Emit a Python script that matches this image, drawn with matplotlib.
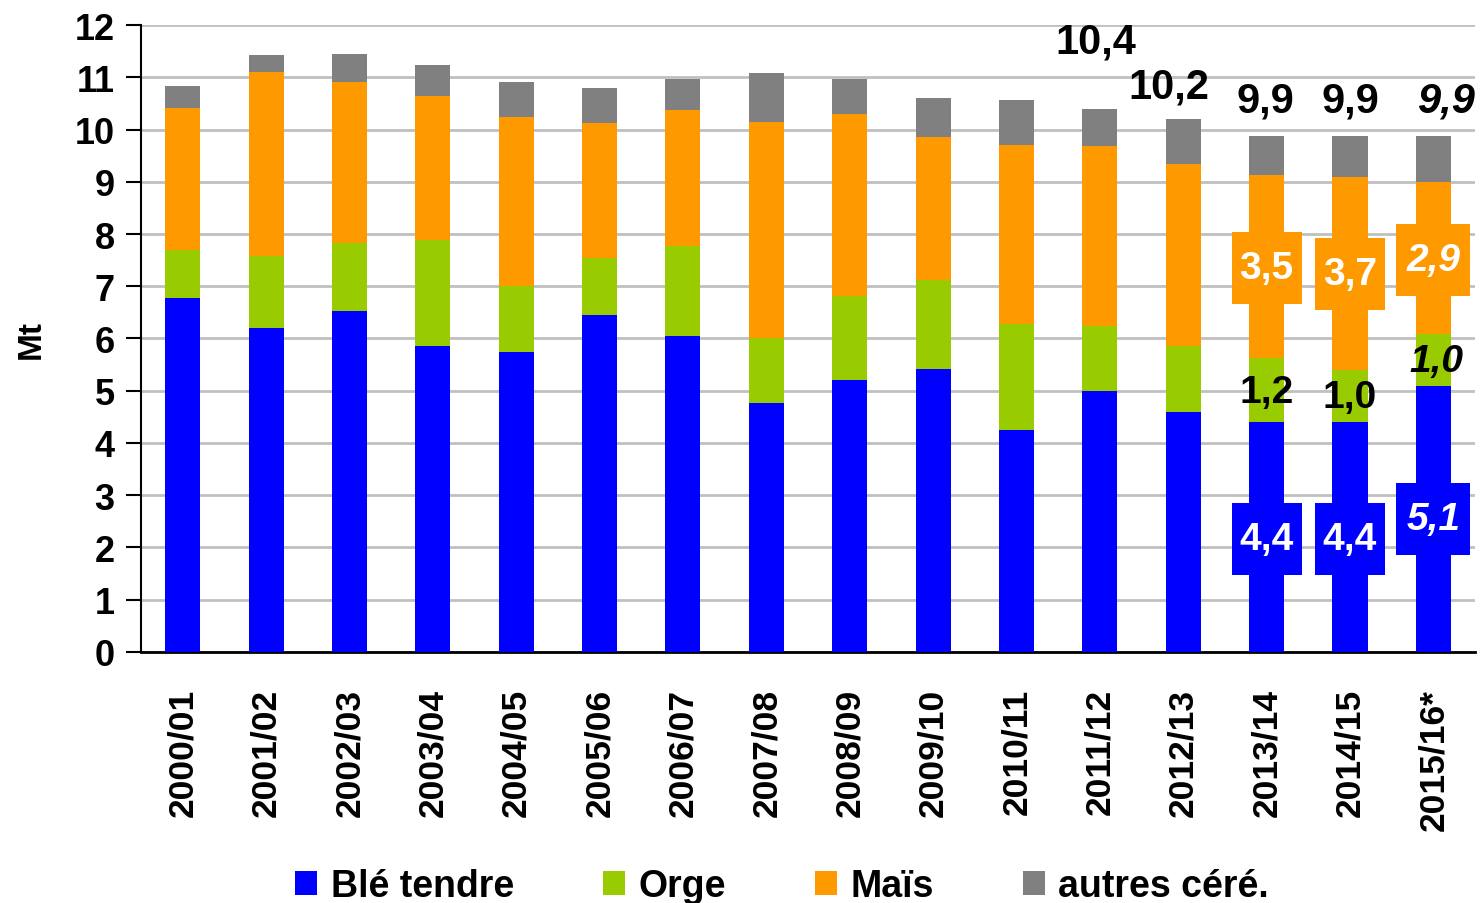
import matplotlib.pyplot as plt
from matplotlib.patches import Rectangle
import numpy as np

plt.rcParams['font.family'] = ['Liberation Sans', 'DejaVu Sans']
plt.rcParams['font.weight'] = 'bold'

campagnes = ["2000/01", "2001/02", "2002/03", "2003/04", "2004/05", "2005/06",
             "2006/07", "2007/08", "2008/09", "2009/10", "2010/11", "2011/12",
             "2012/13", "2013/14", "2014/15", "2015/16*"]
ble = [6.78, 6.20, 6.53, 5.86, 5.74, 6.45, 6.05, 4.77, 5.21, 5.42, 4.25, 5.00,
       4.59, 4.40, 4.40, 5.09]
orge = [0.91, 1.38, 1.30, 2.03, 1.26, 1.09, 1.72, 1.24, 1.60, 1.70, 2.03, 1.24,
        1.27, 1.23, 1.00, 1.00]
mais = [2.72, 3.52, 3.08, 2.75, 3.24, 2.58, 2.60, 4.13, 3.49, 2.74, 3.42, 3.44,
        3.48, 3.50, 3.69, 2.91]
autres = [0.42, 0.33, 0.53, 0.59, 0.67, 0.67, 0.60, 0.94, 0.67, 0.74, 0.86, 0.71,
          0.86, 0.75, 0.79, 0.88]

# totals written above the last bars
totaux = {11: "10,4", 12: "10,2", 13: "9,9", 14: "9,9", 15: "9,9"}
# labels inside the last three bars
lab_ble = ["4,4", "4,4", "5,1"]
lab_orge = ["1,2", "1,0", "1,0"]
lab_mais = ["3,5", "3,7", "2,9"]

c_ble, c_orge, c_mais, c_autres = "#0000FF", "#99CC00", "#FF9900", "#808080"

fig = plt.figure(figsize=(14.81, 9.04), dpi=100)
ax = fig.add_axes([0.0952, 0.2777, 0.9008, 0.6935])

x = np.arange(len(campagnes))
w = 0.42
b1 = np.array(ble)
b2 = b1 + np.array(orge)
b3 = b2 + np.array(mais)
ax.bar(x, ble, w, color=c_ble, label="Blé tendre", zorder=3)
ax.bar(x, orge, w, bottom=b1, color=c_orge, label="Orge", zorder=3)
ax.bar(x, mais, w, bottom=b2, color=c_mais, label="Maïs", zorder=3)
ax.bar(x, autres, w, bottom=b3, color=c_autres, label="autres céré.", zorder=3)

ax.set_xlim(-0.5, 15.5)
ax.set_ylim(0, 12)
ax.set_yticks(range(0, 13))
ax.yaxis.grid(True, color="#c0c0c0", linewidth=2, zorder=0)
ax.set_axisbelow(True)
for s in ["top", "right"]:
    ax.spines[s].set_visible(False)
ax.spines["left"].set_linewidth(1.5)
ax.spines["bottom"].set_linewidth(2)
ax.tick_params(axis="y", labelsize=26, length=11, width=1.5, pad=8)
ax.tick_params(axis="x", labelsize=25.5, length=0, pad=26)
ax.set_xticks(x)
ax.set_xticklabels(campagnes, rotation=90, fontweight="bold")
for t in ax.get_yticklabels():
    t.set_fontweight("bold")
ax.set_ylabel("Mt", fontsize=24, fontweight="bold", labelpad=20)

# totals
pos_tot = {11: 11.69, 12: 10.83, 13: 10.56, 14: 10.56, 15: 10.56}
dx_tot = {11: -0.05, 12: -0.17, 13: -0.02, 14: 0.0, 15: 0.15}
for i, txt in totaux.items():
    ax.text(x[i] + dx_tot[i], pos_tot[i], txt, ha="center", va="center",
            fontsize=30, fontweight="bold", style="italic" if i == 15 else "normal",
            zorder=5)

# inner labels of the last three campaigns, in boxes
y_mais = [7.35, 7.23, 7.51]
y_orge = [4.98, 4.88, 5.57]
y_ble = [2.17, 2.17, 2.54]
box_w = [0.84, 0.84, 0.89]
box_h = 1.38
for k, i in enumerate([13, 14, 15]):
    st = "italic" if i == 15 else "normal"
    for yc, col in [(y_mais[k], c_mais), (y_ble[k], c_ble)]:
        ax.add_patch(Rectangle((x[i] - box_w[k] / 2, yc - box_h / 2), box_w[k], box_h,
                               fc=col, ec="none", zorder=4))
    ax.text(x[i], y_mais[k], lab_mais[k], ha="center", va="center", fontsize=28,
            fontweight="bold", color="white", style=st, zorder=5)
    ax.text(x[i] + (0.04 if i == 15 else 0), y_orge[k], lab_orge[k], ha="center",
            va="center", fontsize=28, fontweight="bold", color="black", style=st,
            zorder=5)
    ax.text(x[i], y_ble[k], lab_ble[k], ha="center", va="center", fontsize=28,
            fontweight="bold", color="white", style=st, zorder=5)

leg = fig.legend(loc="center", bbox_to_anchor=(0.528, 0.019), ncol=4, frameon=False,
                 prop={"size": 27, "weight": "bold"}, handlelength=0.6,
                 handleheight=0.6, handletextpad=0.35, columnspacing=2.37)

fig.savefig("out.png", dpi=100)
